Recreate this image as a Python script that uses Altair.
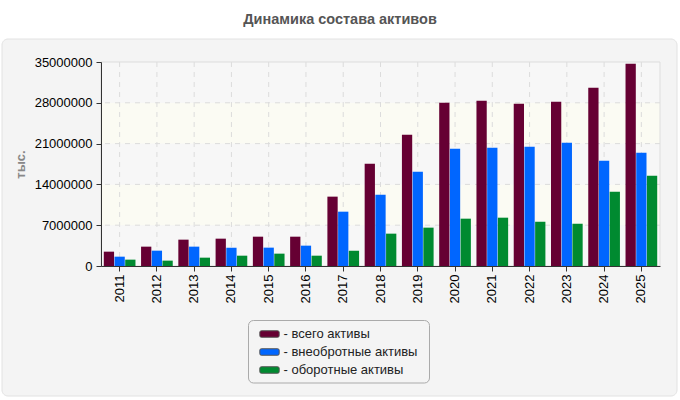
import altair as alt
import pandas as pd

# Asset composition by year (thousands)
years = [str(y) for y in range(2011, 2026)]
total_assets = [2460000, 3320000, 4520000, 4690000, 5030000, 5030000, 11900000,
                17560000, 22530000, 28020000, 28370000, 27850000, 28190000,
                30600000, 34710000]
noncurrent_assets = [1600000, 2630000, 3320000, 3150000, 3150000, 3490000, 9320000,
                     12240000, 16180000, 20130000, 20300000, 20470000, 21160000,
                     18070000, 19440000]
current_assets = [1090000, 920000, 1430000, 1770000, 2120000, 1770000, 2630000,
                  5550000, 6580000, 8120000, 8290000, 7610000, 7260000,
                  12750000, 15500000]

series_names = ["всего активы", "внеобротные активы", "оборотные активы"]
series_colors = ["#660033", "#0066ff", "#008a30"]
y_ticks = [0, 7000000, 14000000, 21000000, 28000000, 35000000]

rows = []
for name, vals in zip(series_names, [total_assets, noncurrent_assets, current_assets]):
    for yr, v in zip(years, vals):
        rows.append({"year": yr, "series": name, "value": v})
df = pd.DataFrame(rows)

# alternating background bands of the plot area
band_lo = y_ticks[:-1]
band_hi = y_ticks[1:]
band_fill = ["#f7f7f7", "#fbfbf3", "#f7f7f7", "#fbfbf3", "#f7f7f7"]
bands = pd.DataFrame({"lo": band_lo, "hi": band_hi, "fill": band_fill})

one = pd.DataFrame({"k": [0]})
year_df = pd.DataFrame({"year": years})
hgrid_df = pd.DataFrame({"v": y_ticks[1:-1]})

panel = alt.Chart(one).mark_rect(
    fill="#f4f4f4", stroke="#e2e2e2", strokeWidth=1, cornerRadius=6
).encode(
    x=alt.value(-99), x2=alt.value(576), y=alt.value(-23), y2=alt.value(334)
)

# box behind the legend entries
legend_box = alt.Chart(one).mark_rect(
    fill="#f4f4f4", stroke="#aaaaaa", strokeWidth=1, cornerRadius=5
).encode(
    x=alt.value(147.5), x2=alt.value(328.5), y=alt.value(258.5), y2=alt.value(321)
)

title = alt.Chart(one).mark_text(
    text="Динамика состава активов", font="Liberation Sans", fontSize=14.5,
    fontWeight="bold", color="#555555", align="center", baseline="middle"
).encode(x=alt.value(239), y=alt.value(-42))

y_scale = alt.Scale(domain=[0, 35000000], nice=False)
x_scale = alt.Scale(domain=years, paddingInner=0.15, paddingOuter=0.075)

band_layer = alt.Chart(bands).mark_rect().encode(
    y=alt.Y("lo:Q", scale=y_scale),
    y2="hi:Q",
    fill=alt.Fill("fill:N", scale=None),
)

# light frame around the plot area
frame = alt.Chart(one).mark_rect(
    fill="transparent", stroke="#dddddd", strokeWidth=1
).encode(x=alt.value(0), x2=alt.value(559), y=alt.value(0), y2=alt.value(204))

hgrid = alt.Chart(hgrid_df).mark_rule(
    color="#dcdcdc", strokeDash=[5, 5], strokeWidth=1
).encode(y=alt.Y("v:Q", scale=y_scale))

vgrid = alt.Chart(year_df).mark_rule(
    color="#dcdcdc", strokeDash=[5, 5], strokeWidth=1
).encode(x=alt.X("year:N", sort=years, scale=x_scale))

symbol_path = ("M-1.05,-0.42 H1.05 Q1.25,-0.42 1.25,-0.22 V0.22 Q1.25,0.42 1.05,0.42 "
               "H-1.05 Q-1.25,0.42 -1.25,0.22 V-0.22 Q-1.25,-0.42 -1.05,-0.42 Z")

bars = alt.Chart(df).mark_bar().encode(
    x=alt.X("year:N", sort=years, scale=x_scale,
            axis=alt.Axis(title=None, labelAngle=-90, labelAlign="right",
                          labelBaseline="middle", labelFontSize=13,
                          labelColor="#000000", labelPadding=3, tickSize=5,
                          tickColor="#333333", domainColor="#333333",
                          grid=False, zindex=1)),
    xOffset=alt.XOffset("series:N", sort=series_names,
                        scale=alt.Scale(paddingInner=0.04)),
    y=alt.Y("value:Q", scale=y_scale,
            axis=alt.Axis(values=y_ticks, format="d", title="тыс.",
                          labelFontSize=13, labelColor="#000000",
                          labelPadding=4, tickSize=5, tickColor="#333333",
                          domainColor="#333333", grid=False, zindex=1,
                          titleColor="#888888",
                          titleFontSize=13, titleFontWeight="bold",
                          titleX=-81, titleY=102, titleAngle=-90,
                          titleAlign="center", titleBaseline="middle")),
    color=alt.Color("series:N", sort=series_names,
                    scale=alt.Scale(domain=series_names, range=series_colors),
                    legend=alt.Legend(title=None, orient="none", legendX=160,
                                      legendY=263.5, direction="vertical",
                                      symbolType=symbol_path, symbolSize=240,
                                      symbolStrokeColor="#555555",
                                      symbolStrokeWidth=1,
                                      labelExpr="'- ' + datum.label",
                                      labelFontSize=13, labelColor="#222222",
                                      labelFont="Liberation Sans",
                                      labelOffset=5.5, rowPadding=2,
                                      padding=0, labelLimit=300)),
)

chart = alt.layer(panel, legend_box, title, band_layer, hgrid, vgrid, frame,
                  bars).properties(
    width=559, height=204,
    autosize=alt.AutoSizeParams(type="none"),
    padding={"left": 101, "top": 62, "right": 20, "bottom": 134},
    background="#ffffff",
).configure_view(stroke="#dddddd").configure_axis(
    labelFont="Liberation Sans", titleFont="Liberation Sans"
)

chart.save("out.html", embed_options={"renderer": "svg", "actions": False})
